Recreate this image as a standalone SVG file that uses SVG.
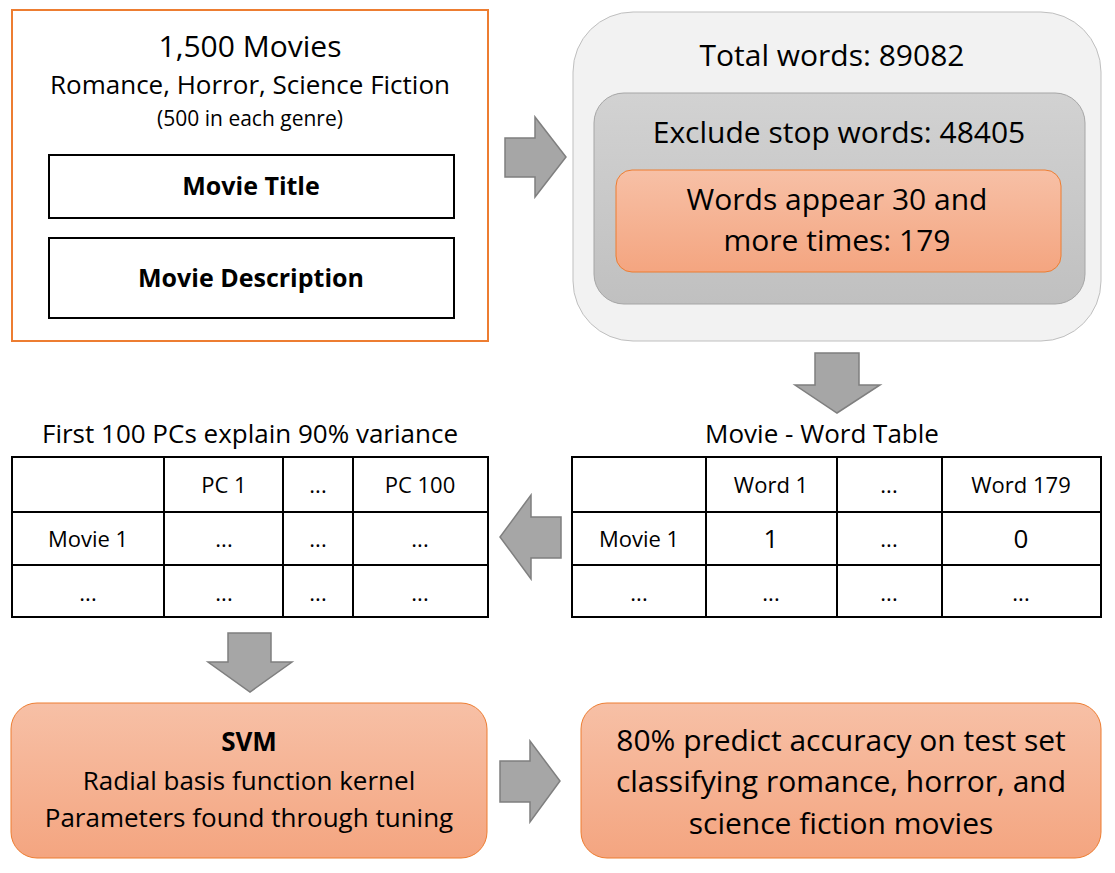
<svg xmlns="http://www.w3.org/2000/svg" width="1115" height="873" viewBox="0 0 1115 873">
<defs>
<linearGradient id="og" x1="0" y1="0" x2="0" y2="1"><stop offset="0" stop-color="#F7C0A6"/><stop offset="1" stop-color="#F4A580"/></linearGradient>
<linearGradient id="gg" x1="0" y1="0" x2="0" y2="1"><stop offset="0" stop-color="#D2D2D2"/><stop offset="1" stop-color="#C0C0C0"/></linearGradient>
</defs>
<style>
text{font-family:"Open Sans","Liberation Sans",sans-serif;fill:#000;text-anchor:middle}
.arr{fill:#A6A6A6;stroke:#7F7F7F;stroke-width:1.5}
.tbl{fill:#fff;stroke:#000;stroke-width:2}
.t20{font-size:22px}
.t24{font-size:26px}
.ob{fill:url(#og);stroke:#ED7D31;stroke-width:1}
</style>
<rect width="1115" height="873" fill="#fff"/>
<g id="movies">
<rect x="12" y="10" width="476" height="331" fill="#fff" stroke="#ED7D31" stroke-width="2"/>
<text x="250" y="57" font-size="30">1,500 Movies</text>
<text x="250" y="94" font-size="26">Romance, Horror, Science Fiction</text>
<text x="250" y="126" font-size="21">(500 in each genre)</text>
<rect x="49" y="155" width="405" height="63" fill="#fff" stroke="#000" stroke-width="2"/>
<text x="251" y="195" font-size="25" font-weight="bold">Movie Title</text>
<rect x="49" y="238" width="405" height="80" fill="#fff" stroke="#000" stroke-width="2"/>
<text x="251" y="287" font-size="25" font-weight="bold">Movie Description</text>
</g>
<g id="words">
<rect x="573" y="12" width="528" height="329" rx="60" fill="#F2F2F2" stroke="#BFBFBF" stroke-width="1"/>
<text x="832" y="66" font-size="30">Total words: 89082</text>
<rect x="594" y="93" width="491" height="211" rx="30" fill="url(#gg)" stroke="#A6A6A6" stroke-width="1"/>
<text x="839" y="143" font-size="30">Exclude stop words: 48405</text>
<rect x="616" y="170" width="445" height="102" rx="16" class="ob"/>
<text x="837" y="210" font-size="30">Words appear 30 and</text>
<text x="837" y="251" font-size="30">more times: 179</text>
</g>
<g id="wordtable">
<text x="822" y="443" font-size="26">Movie - Word Table</text>
<rect x="572" y="457" width="529" height="160" class="tbl"/>
<path d="M572 512H1101M572 565H1101M706 457V617M837 457V617M942 457V617" stroke="#000" stroke-width="2" fill="none"/>
<text x="771" y="493" class="t20">Word 1</text>
<text x="889" y="493" class="t20">...</text>
<text x="1021" y="493" class="t20">Word 179</text>
<text x="639" y="547" class="t20">Movie 1</text>
<text x="771" y="548" class="t24">1</text>
<text x="889" y="547" class="t20">...</text>
<text x="1021" y="548" class="t24">0</text>
<text x="639" y="601" class="t20">...</text>
<text x="771" y="601" class="t20">...</text>
<text x="889" y="601" class="t20">...</text>
<text x="1021" y="601" class="t20">...</text>
</g>
<g id="pctable">
<text x="250" y="443" font-size="26">First 100 PCs explain 90% variance</text>
<rect x="12" y="457" width="476" height="160" class="tbl"/>
<path d="M12 512H488M12 565H488M164 457V617M283 457V617M353 457V617" stroke="#000" stroke-width="2" fill="none"/>
<text x="224" y="493" class="t20">PC 1</text>
<text x="318" y="493" class="t20">...</text>
<text x="420" y="493" class="t20">PC 100</text>
<text x="88" y="547" class="t20">Movie 1</text>
<text x="224" y="547" class="t20">...</text>
<text x="318" y="547" class="t20">...</text>
<text x="420" y="547" class="t20">...</text>
<text x="88" y="601" class="t20">...</text>
<text x="224" y="601" class="t20">...</text>
<text x="318" y="601" class="t20">...</text>
<text x="420" y="601" class="t20">...</text>
</g>
<g id="svm">
<rect x="11" y="703" width="476" height="155" rx="26" class="ob"/>
<text x="249" y="751" font-size="26" font-weight="bold">SVM</text>
<text x="249" y="790" font-size="26">Radial basis function kernel</text>
<text x="249" y="827" font-size="26">Parameters found through tuning</text>
</g>
<g id="result">
<rect x="581" y="703" width="520" height="155" rx="26" class="ob"/>
<text x="841" y="751" font-size="30">80% predict accuracy on test set</text>
<text x="841" y="792" font-size="30">classifying romance, horror, and</text>
<text x="841" y="834" font-size="30">science fiction movies</text>
</g>
<g id="connectors">
<polygon class="arr" points="505,138 535,138 535,117 566,157 535,197 535,177 505,177"/>
<polygon class="arr" points="815,353 859,353 859,385 880,385 837,413 795,385 815,385"/>
<polygon class="arr" points="561,517 531,517 531,495 500,537 531,579 531,558 561,558"/>
<polygon class="arr" points="228,633 271,633 271,662 292,662 250,692 208,662 228,662"/>
<polygon class="arr" points="500,761 530,761 530,741 560,781 530,822 530,802 500,802"/>
</g>
</svg>
